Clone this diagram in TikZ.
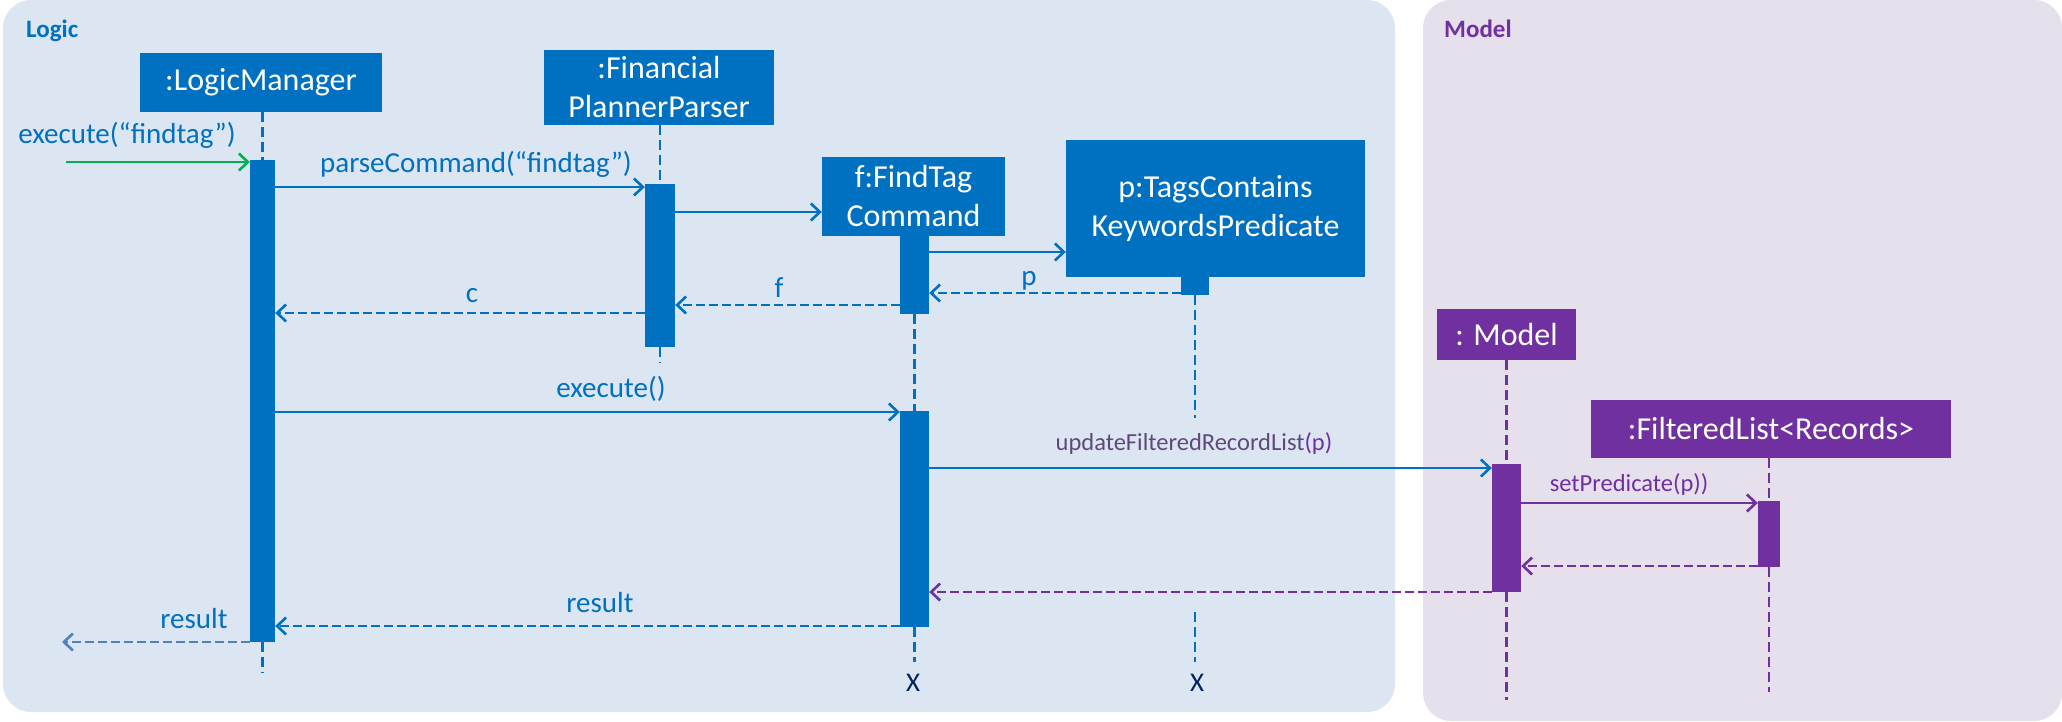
\documentclass[tikz,border=0pt]{standalone}
\usepackage{fontspec}
\setmainfont{Carlito}
\usetikzlibrary{arrows.meta,calc}
\definecolor{lblue}{HTML}{0070C0}
\definecolor{lpurp}{HTML}{7030A0}
\definecolor{logicbg}{HTML}{DCE6F2}
\definecolor{modelbg}{HTML}{E5E0EC}
\definecolor{lgreen}{HTML}{00B050}
\definecolor{steel}{HTML}{4F81BD}
\definecolor{navy}{HTML}{002060}
\definecolor{grayp}{HTML}{5F497A}
\begin{document}
\begin{tikzpicture}[x=1pt,y=-1pt,
  obj/.style={rectangle, fill=lblue, text=white, inner sep=0pt, align=center, font=\fontsize{32}{39}\selectfont},
  mobj/.style={obj, fill=lpurp},
  actbar/.style={rectangle, fill=lblue, inner sep=0pt},
  mactbar/.style={actbar, fill=lpurp},
  life/.style={draw=lblue, line width=2.4pt, dash pattern=on 10pt off 5pt},
  mlife/.style={life, draw=lpurp},
  msg/.style={draw=lblue, line width=2.6pt, -{Straight Barb[length=9pt,width=17pt]}},
  ret/.style={msg, dash pattern=on 9pt off 4pt},
  lbl/.style={text=lblue, font=\fontsize{29}{34}\selectfont, anchor=base, inner sep=0pt},
  slbl/.style={lbl, font=\fontsize{24.5}{29}\selectfont},
  xmark/.style={lbl, text=navy, font=\fontsize{27}{32}\selectfont},
  panellbl/.style={anchor=base west, inner sep=0pt, font=\bfseries\fontsize{25}{30}\selectfont}
]
\useasboundingbox (0,0) rectangle (2062,721);
% panels
\fill[logicbg, rounded corners=28pt] (3,0) rectangle (1395,712);
\fill[modelbg, rounded corners=28pt] (1423,0) rectangle (2062,721);
\node[panellbl, text=lblue] (logiclbl) at (26,37) {Logic};
\node[panellbl, text=lpurp] (modellbl) at (1444,37) {Model};

% objects and activation bars
\node[obj, minimum width=242pt, minimum height=59pt] (lm) at (261,82.5) {:LogicManager};
\node[actbar, minimum width=25pt, minimum height=482pt] (lmbar) at (262.5,401) {};
\node[obj, minimum width=230pt, minimum height=75pt] (fpp) at (659,87.5) {:Financial\\PlannerParser};
\node[actbar, minimum width=30pt, minimum height=163pt] (fppbar) at (660,265.5) {};
\node[obj, minimum width=183pt, minimum height=79pt] (ft) at (913.5,196.5) {f:FindTag\\Command};
\node[actbar, minimum width=29pt, minimum height=78pt] (ftbara) at (914.5,275) {};
\node[actbar, minimum width=29pt, minimum height=216pt] (ftbarb) at (914.5,519) {};
\node[obj, minimum width=299pt, minimum height=137pt] (pp) at (1215.5,208.5) {p:TagsContains\\KeywordsPredicate};
\node[actbar, minimum width=28pt, minimum height=18pt] (ppbar) at (1195,286) {};
\node[mobj, minimum width=139pt, minimum height=51pt] (model) at (1506.5,334.5) {: Model};
\node[mactbar, minimum width=29pt, minimum height=128pt] (mbar) at (1506.5,528) {};
\node[mobj, minimum width=360pt, minimum height=58pt] (fl) at (1771,429) {:FilteredList<Records>};
\node[mactbar, minimum width=22pt, minimum height=66pt] (flbar) at (1769,534) {};

% helper coordinates
\coordinate (lmend) at (262.5,673);
\coordinate (fppend) at (660,363);
\coordinate (ftend) at (914.5,662);
\coordinate (ppa) at (1195,418);
\coordinate (ppb) at (1195,612);
\coordinate (ppend) at (1195,662);
\coordinate (mend) at (1506.5,700);
\coordinate (flend) at (1769,692);
\coordinate (entry) at (66,162);
\coordinate (exitpt) at (62,642);
\coordinate (yparse) at (0,187);
\coordinate (ycreate) at (0,212);
\coordinate (ypcreate) at (0,252);
\coordinate (ypret) at (0,293);
\coordinate (yfret) at (0,305);
\coordinate (ycret) at (0,313);
\coordinate (yexec) at (0,412);
\coordinate (yupd) at (0,468);
\coordinate (ysetp) at (0,503);
\coordinate (ysetret) at (0,566);
\coordinate (ymret) at (0,592);
\coordinate (yres) at (0,626);
\coordinate (yresout) at (0,642);

% lifelines
\draw[life] (lmbar.north |- lm.south) -- (lmbar.north);
\draw[life] (lmbar.south) -- (lmend);
\draw[life] (fppbar.north |- fpp.south) -- (fppbar.north);
\draw[life] (fppbar.south) -- (fppend);
\draw[life] (ftbara.south) -- (ftbarb.north);
\draw[life] (ftbarb.south) -- (ftend);
\draw[life] (ppbar.south) -- (ppa);
\draw[life] (ppb) -- (ppend);
\draw[mlife] (mbar.north |- model.south) -- (mbar.north);
\draw[mlife] (mbar.south) -- (mend);
\draw[mlife] (flbar.north |- fl.south) -- (flbar.north);
\draw[mlife] (flbar.south) -- (flend);

% messages
\draw[msg, draw=lgreen] (entry) -- (entry -| lmbar.west);
\draw[msg] (lmbar.east |- yparse) -- (fppbar.west |- yparse);
\draw[msg] (fppbar.east |- ycreate) -- (ft.west |- ycreate);
\draw[msg] (ftbara.east |- ypcreate) -- (pp.west |- ypcreate);
\draw[ret] (ppbar.west |- ypret) -- (ftbara.east |- ypret);
\draw[ret] (ftbara.west |- yfret) -- (fppbar.east |- yfret);
\draw[ret] (fppbar.west |- ycret) -- (lmbar.east |- ycret);
\draw[msg] (lmbar.east |- yexec) -- (ftbarb.west |- yexec);
\draw[msg] (ftbarb.east |- yupd) -- (mbar.west |- yupd);
\draw[msg, draw=lpurp] (mbar.east |- ysetp) -- (flbar.west |- ysetp);
\draw[ret, draw=lpurp] (flbar.west |- ysetret) -- (mbar.east |- ysetret);
\draw[ret, draw=lpurp] (mbar.west |- ymret) -- (ftbarb.east |- ymret);
\draw[ret] (ftbarb.west |- yres) -- (lmbar.east |- yres);
\draw[ret, draw=steel] (lmbar.west |- yresout) -- (exitpt);

% labels
\node[lbl] (l1) at (127,143) {execute(“findtag”)};
\node[lbl] (l2) at (476,172) {parseCommand(“findtag”)};
\node[lbl] (l3) at (472,302) {c};
\node[lbl] (l4) at (779,297) {f};
\node[lbl] (l5) at (1029,285) {p};
\node[lbl] (l6) at (611,397) {execute()};
\node[slbl, text=grayp] (l7) at (1194,450) {updateFilteredRecordList\textcolor{lpurp}{(p)}};
\node[slbl, text=lpurp] (l8) at (1629,491) {setPredicate(p))};
\node[lbl] (l9) at (600,612) {result};
\node[lbl] (l10) at (194,628) {result};
\node[xmark] (x1) at (913,691) {X};
\node[xmark] (x2) at (1197,691) {X};
\end{tikzpicture}
\end{document}
